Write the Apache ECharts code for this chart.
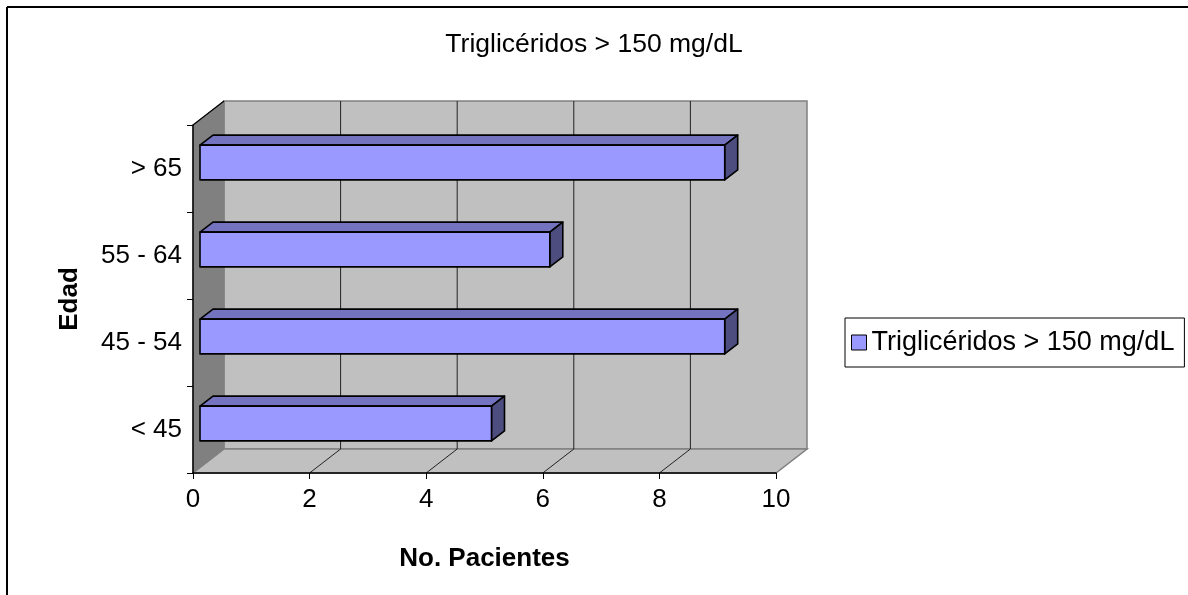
<!DOCTYPE html>
<html>
<head>
<meta charset="utf-8">
<script src="https://cdn.jsdelivr.net/npm/echarts@6/dist/echarts.min.js"></script>
<style>
html,body{margin:0;padding:0;background:#fff;}
#chart{width:1188px;height:595px;}
</style>
</head>
<body>
<div id="chart"></div>
<script>
// ---- data ----
const categories = ['< 45', '45 - 54', '55 - 64', '> 65'];
const values = [5, 9, 6, 9];
const seriesName = 'Triglicéridos > 150 mg/dL';
const titleText = 'Triglicéridos > 150 mg/dL';
const xAxisName = 'No. Pacientes';
const yAxisName = 'Edad';
const xTicks = [0, 2, 4, 6, 8, 10];

// ---- 3D style constants ----
const DX = 31, DY = -24;            // depth of the plot box
const BFX = 7, BFY = -6;            // bar front offset
const BDX = 13, BDY = -10;          // bar depth
const FONT = 'Liberation Sans, Arial, sans-serif';

const chart = echarts.init(document.getElementById('chart'), null, {renderer: 'canvas'});

function renderWalls(params, api) {
  const cs = params.coordSys;
  const x0 = cs.x, x1 = cs.x + cs.width, top = cs.y, bot = cs.y + cs.height;
  const children = [];
  // back wall
  children.push({type: 'rect', shape: {x: x0 + DX, y: top + DY, width: x1 - x0, height: bot - top},
    style: {fill: '#c0c0c0', stroke: '#808080', lineWidth: 1.5}});
  // floor
  children.push({type: 'polygon', shape: {points: [[x0, bot], [x0 + DX, bot + DY], [x1 + DX, bot + DY], [x1, bot]]},
    style: {fill: '#c0c0c0', stroke: '#808080', lineWidth: 1.5}});
  // left wall
  children.push({type: 'polygon', shape: {points: [[x0, top], [x0 + DX, top + DY], [x0 + DX, bot + DY], [x0, bot]]},
    style: {fill: '#808080', stroke: '#808080', lineWidth: 1}});
  children.push({type: 'line', shape: {x1: x0, y1: top, x2: x0 + DX, y2: top + DY},
    style: {stroke: '#000', lineWidth: 1.2}});
  // gridlines
  xTicks.forEach(function (v) {
    const px = api.coord([v, 0])[0];
    if (v !== xTicks[0] && v !== xTicks[xTicks.length - 1]) {
      children.push({type: 'line', shape: {x1: px + DX, y1: top + DY, x2: px + DX, y2: bot + DY},
        style: {stroke: '#222', lineWidth: 1}});
      children.push({type: 'line', shape: {x1: px, y1: bot, x2: px + DX, y2: bot + DY},
        style: {stroke: '#222', lineWidth: 1}});
    }
  });
  return {type: 'group', children: children};
}

function renderBar(params, api) {
  const v = api.value(0), idx = api.value(1);
  const s = api.coord([0, idx]);
  const e = api.coord([v, idx]);
  const h = api.size([0, 1])[1] * 0.4;
  const x = s[0] + BFX, y = s[1] + BFY - h / 2, w = e[0] - s[0];
  const st = {stroke: '#000', lineWidth: 1.6, lineJoin: 'round'};
  return {type: 'group', children: [
    {type: 'polygon', shape: {points: [[x, y], [x + BDX, y + BDY], [x + w + BDX, y + BDY], [x + w, y]]},
      style: Object.assign({fill: '#7373bf'}, st)},
    {type: 'polygon', shape: {points: [[x + w, y], [x + w + BDX, y + BDY], [x + w + BDX, y + h + BDY], [x + w, y + h]]},
      style: Object.assign({fill: '#4d4d80'}, st)},
    {type: 'rect', shape: {x: x, y: y, width: w, height: h},
      style: Object.assign({fill: '#9999ff'}, st)}
  ]};
}

const option = {
  backgroundColor: '#fff',
  animation: false,
  title: {
    text: titleText, left: 'center', top: 26,
    textStyle: {fontFamily: FONT, fontSize: 26.5, fontWeight: 'normal', color: '#000'}
  },
  legend: {
    data: [seriesName],
    left: 845, top: 318,
    orient: 'vertical',
    padding: [11, 10, 11, 6],
    borderColor: '#000', borderWidth: 1,
    itemWidth: 15, itemHeight: 15,
    icon: 'rect',
    itemStyle: {color: '#9999ff', borderColor: '#000', borderWidth: 1},
    textStyle: {fontFamily: FONT, fontSize: 27, color: '#000'}
  },
  grid: {left: 193, right: 412, top: 125, bottom: 122, containLabel: false},
  xAxis: {
    type: 'value', min: 0, max: 10, interval: 2, z: 5,
    name: xAxisName, nameLocation: 'middle', nameGap: 73,
    nameTextStyle: {fontFamily: FONT, fontSize: 26, fontWeight: 'bold', color: '#000'},
    axisLine: {show: true, lineStyle: {color: '#000', width: 1.5}},
    axisTick: {show: true, length: 6, lineStyle: {color: '#000'}},
    axisLabel: {fontFamily: FONT, fontSize: 26, color: '#000', margin: 14},
    splitLine: {show: false}
  },
  yAxis: {
    type: 'category', data: categories, z: 5,
    name: yAxisName, nameLocation: 'middle', nameGap: 110,
    nameTextStyle: {fontFamily: FONT, fontSize: 26, fontWeight: 'bold', color: '#000'},
    axisLine: {show: true, lineStyle: {color: '#000', width: 1.5}},
    axisTick: {show: true, length: 6, lineStyle: {color: '#000'}},
    axisLabel: {fontFamily: FONT, fontSize: 26, color: '#000', margin: 11},
    splitLine: {show: false}
  },
  series: [
    {
      type: 'custom', name: 'walls', silent: true, z: 1,
      renderItem: renderWalls,
      data: [[0, 0]],
      encode: {x: 0, y: 1}
    },
    {
      type: 'custom', name: seriesName, z: 2,
      itemStyle: {color: '#9999ff', borderColor: '#000', borderWidth: 1},
      renderItem: renderBar,
      data: values.map(function (v, i) { return [v, i]; }),
      encode: {x: 0, y: 1}
    }
  ],
  graphic: [
    {type: 'line', shape: {x1: 7, y1: 7, x2: 1188, y2: 7}, style: {stroke: '#000', lineWidth: 2}},
    {type: 'line', shape: {x1: 7, y1: 7, x2: 7, y2: 595}, style: {stroke: '#000', lineWidth: 2}}
  ]
};
chart.setOption(option);
</script>
</body>
</html>
